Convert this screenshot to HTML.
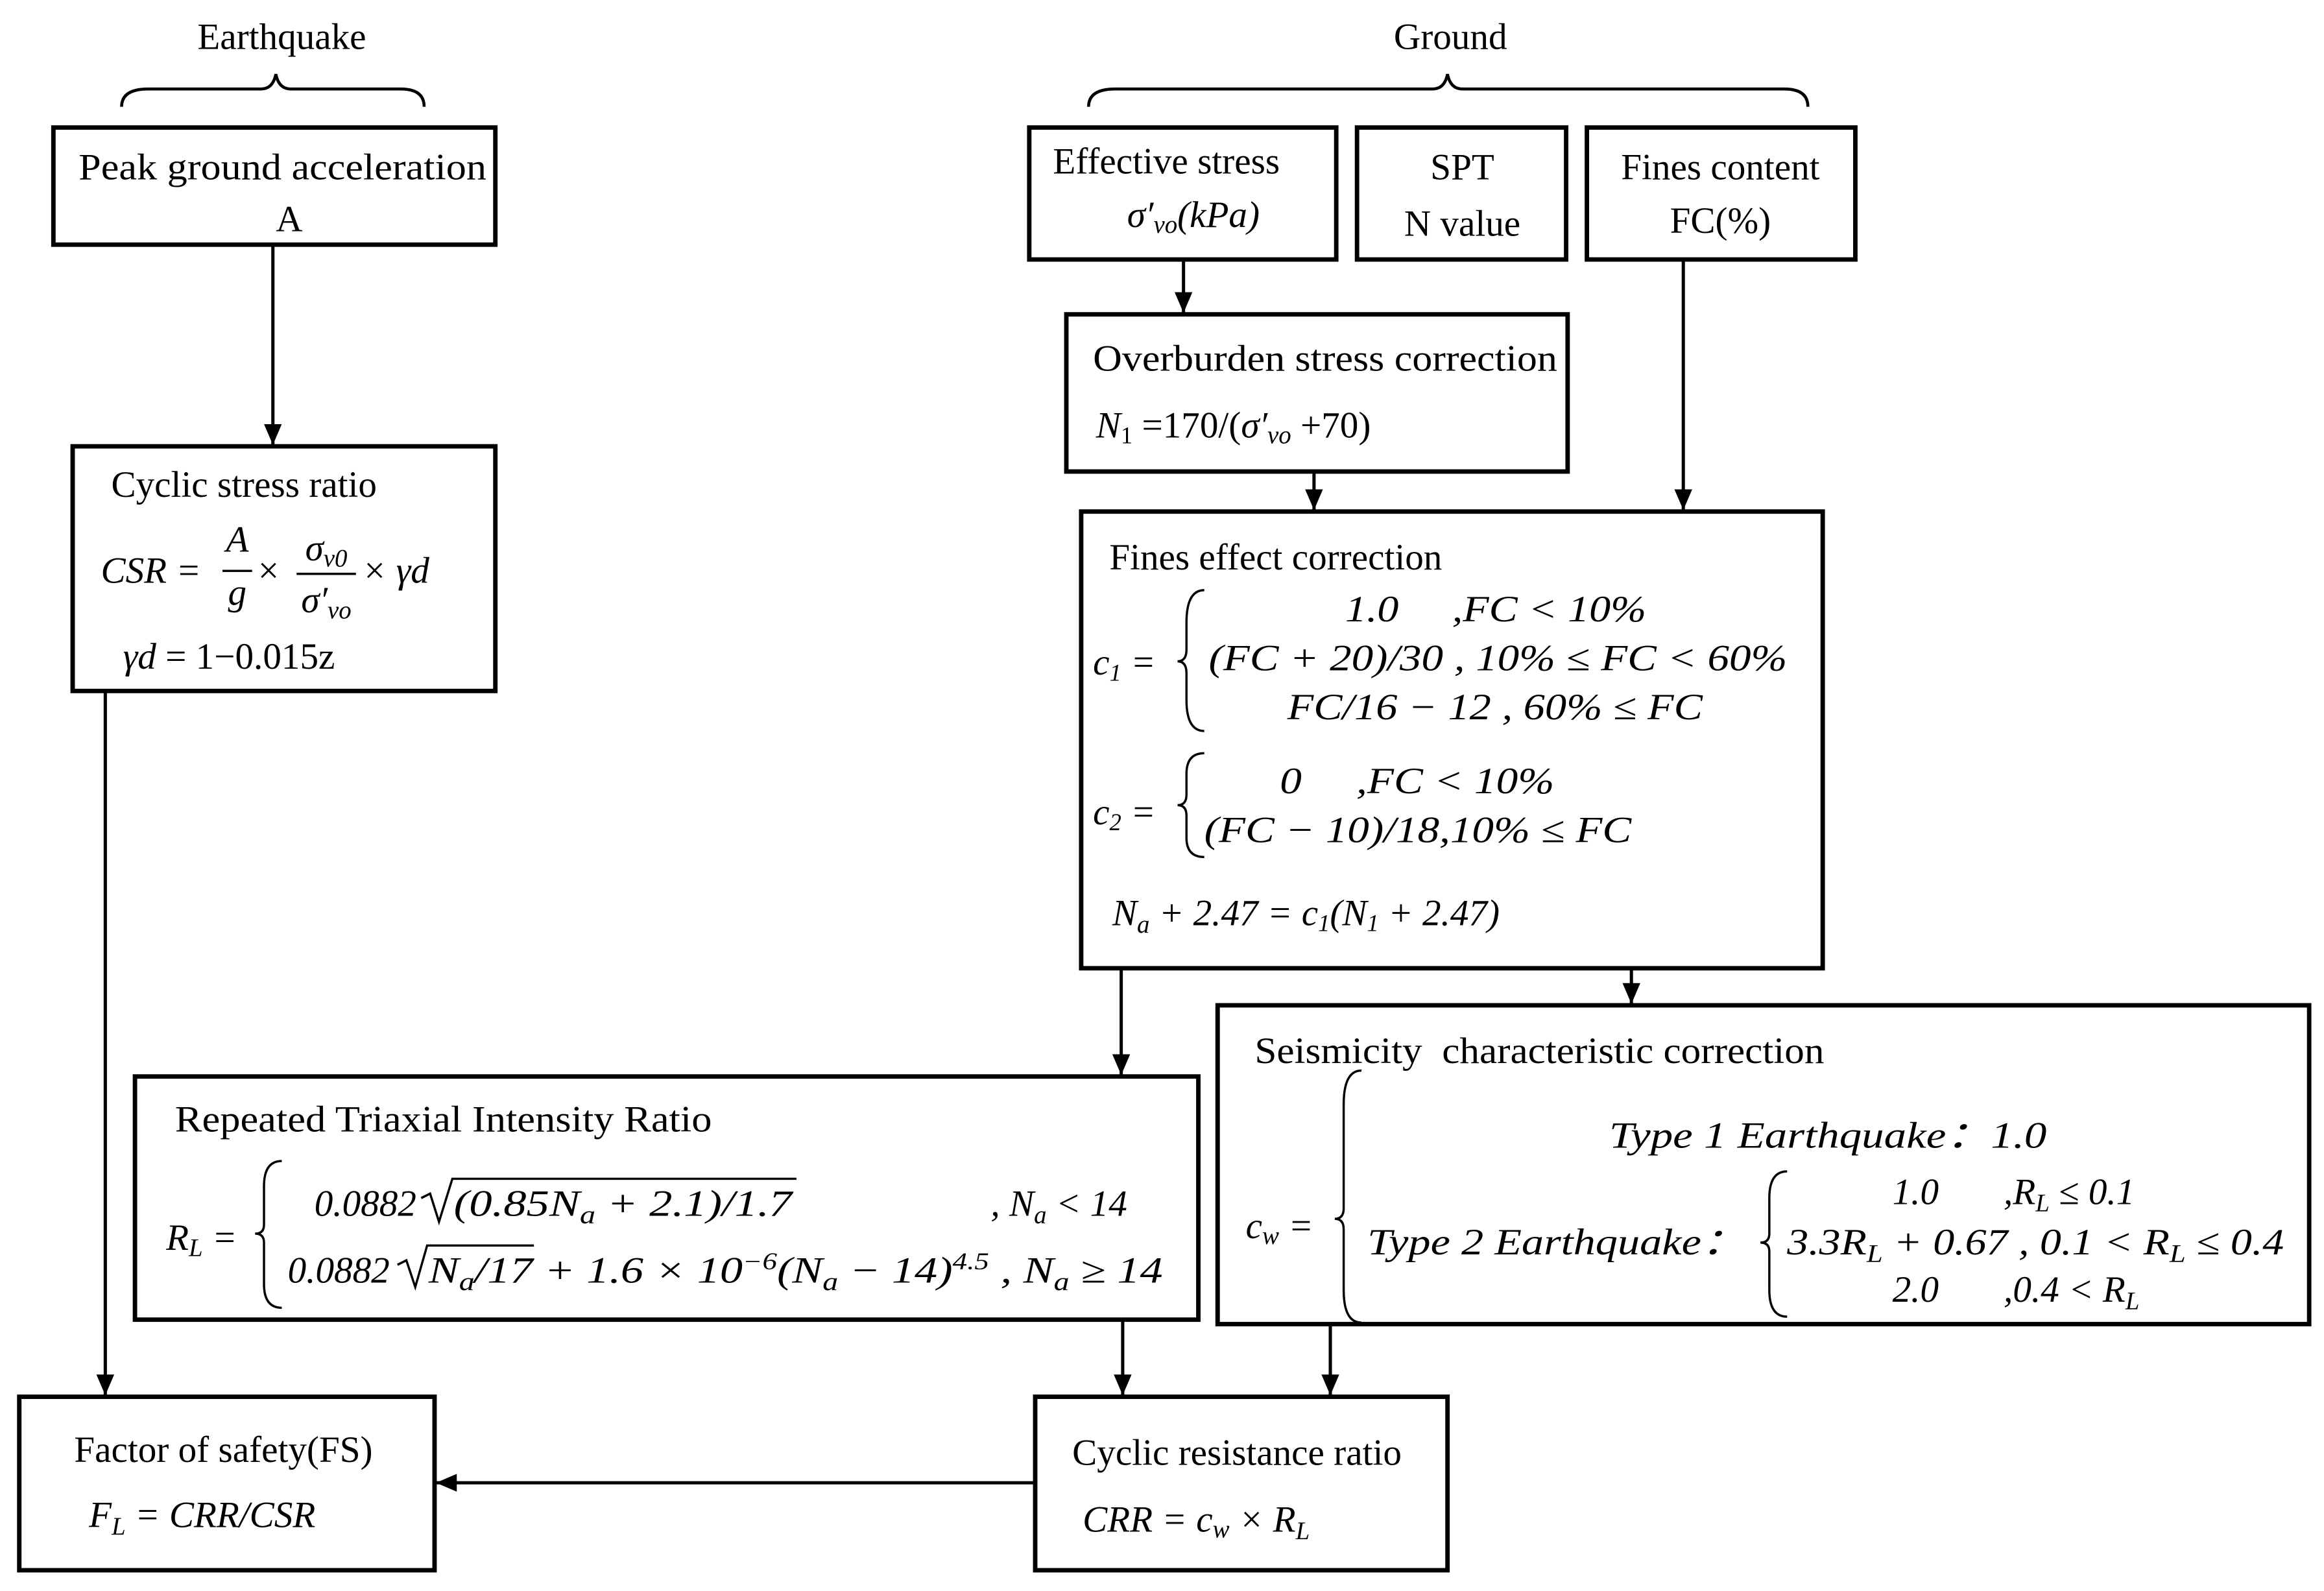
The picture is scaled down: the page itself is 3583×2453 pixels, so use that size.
<!DOCTYPE html>
<html><head><meta charset="utf-8"><style>
html,body{margin:0;padding:0;background:#fff}
svg{display:block}
text{font-family:"Liberation Serif",serif;font-size:25px;fill:#000;white-space:pre}
.i{font-style:italic}
</style></head><body>
<svg width="3583" height="2453" viewBox="0 0 1567 1073" preserveAspectRatio="none" xmlns="http://www.w3.org/2000/svg" xml:space="preserve">
<defs><marker id="b" markerWidth="14" markerHeight="12" refX="14" refY="6" orient="auto" markerUnits="userSpaceOnUse"><path d="M0,0 L14,6 L0,12 z" fill="#000"/></marker></defs>
<g fill="none" stroke="#000" stroke-width="2">
<path d="M82,72 Q82,60 100,60 L176,60 Q184,60 186,50 Q188,60 196,60 L270,60 Q286,60 286,72"/>
<path d="M734,72 Q734,60 752,60 L966,60 Q974,60 976,50 Q978,60 986,60 L1203,60 Q1219,60 1219,72"/>
</g>
<g fill="none" stroke="#000" stroke-width="3">
<rect x="36" y="86" width="298" height="79"/>
<rect x="49" y="301" width="285" height="165"/>
<rect x="694" y="86" width="207" height="89"/>
<rect x="915" y="86" width="141" height="89"/>
<rect x="1070" y="86" width="181" height="89"/>
<rect x="719" y="212" width="338" height="106"/>
<rect x="729" y="345" width="500" height="308"/>
<rect x="821" y="678" width="736" height="215"/>
<rect x="91" y="726" width="717" height="164"/>
<rect x="698" y="942" width="278" height="117"/>
<rect x="13" y="942" width="280" height="117"/>
</g>
<g fill="none" stroke="#000" stroke-width="2.2" marker-end="url(#b)">
<path d="M184,165 V300"/>
<path d="M798,175 V211"/>
<path d="M886,318 V344"/>
<path d="M1135,175 V344"/>
<path d="M1100,653 V677"/>
<path d="M756,653 V725"/>
<path d="M757,890 V941"/>
<path d="M897,893 V941"/>
<path d="M71,466 V941"/>
<path d="M698,1000 H294"/>
</g>
<g fill="none" stroke="#000" stroke-width="1.5">
<path d="M812,398 Q800,398 800,420 L800,438 Q800,446 794,446 Q800,446 800,454 L800,472 Q800,493 812,493"/>
<path d="M812,508 Q800,508 800,522 L800,536 Q800,543 794,543 Q800,543 800,550 L800,565 Q800,578 812,578"/>
<path d="M190,783 Q178,783 178,800 L178,826 Q178,832 172,832 Q178,832 178,838 L178,866 Q178,882 190,882"/>
<path d="M918,722 Q906,722 906,745 L906,815 Q906,822 900,822 Q906,822 906,829 L906,870 Q906,892 918,892"/>
<path d="M1205,790 Q1193,790 1193,808 L1193,832 Q1193,838 1187,838 Q1193,838 1193,844 L1193,870 Q1193,888 1205,888"/>
<path d="M284,808 L290,805 L296,824 L305,795 L537,795"/>
<path d="M268,853 L274,850 L280,868 L288,840 L360,840"/>
<path d="M150,385 H170 M200,387 H240"/>
</g>
<text x="190" y="33" text-anchor="middle">Earthquake</text>
<text x="978" y="33" text-anchor="middle">Ground</text>
<text x="53" y="121" textLength="275" lengthAdjust="spacingAndGlyphs">Peak ground acceleration</text>
<text x="195" y="156" text-anchor="middle">A</text>
<text x="75" y="335">Cyclic stress ratio</text>
<text x="68" y="393" class="i">CSR =</text>
<text x="160" y="372" class="i" text-anchor="middle">A</text>
<text x="160" y="408" class="i" text-anchor="middle">g</text>
<text x="174" y="393">×</text>
<text x="220" y="378" class="i" text-anchor="middle">σ<tspan font-size="17" dy="4">v0</tspan></text>
<text x="220" y="413" class="i" text-anchor="middle">σ′<tspan font-size="17" dy="4">vo</tspan></text>
<text x="244" y="393" class="i">× γd</text>
<text x="83" y="451"><tspan class="i">γd</tspan> = 1−0.015z</text>
<text x="710" y="117">Effective stress</text>
<text x="760" y="153" class="i">σ′<tspan font-size="17" dy="4">vo</tspan><tspan dy="-4">(kPa)</tspan></text>
<text x="986" y="121" text-anchor="middle">SPT</text>
<text x="986" y="159" text-anchor="middle">N value</text>
<text x="1160" y="121" text-anchor="middle">Fines content</text>
<text x="1160" y="157" text-anchor="middle">FC(%)</text>
<text x="737" y="250" textLength="313" lengthAdjust="spacingAndGlyphs">Overburden stress correction</text>
<text x="739" y="295"><tspan class="i">N</tspan><tspan font-size="16" dy="4">1</tspan><tspan dy="-4"> =170/(</tspan><tspan class="i">σ′</tspan><tspan class="i" font-size="17" dy="4">vo</tspan><tspan dy="-4"> +70)</tspan></text>
<text x="748" y="384">Fines effect correction</text>
<text x="737" y="455" class="i">c<tspan font-size="16" dy="4">1</tspan><tspan dy="-4"> =</tspan></text>
<text x="907" y="419" class="i" textLength="203" lengthAdjust="spacingAndGlyphs">1.0     ,FC &lt; 10%</text>
<text x="815" y="452" class="i" textLength="390" lengthAdjust="spacingAndGlyphs">(FC + 20)/30 , 10% ≤ FC &lt; 60%</text>
<text x="868" y="485" class="i" textLength="280" lengthAdjust="spacingAndGlyphs">FC/16 − 12 , 60% ≤ FC</text>
<text x="737" y="556" class="i">c<tspan font-size="16" dy="4">2</tspan><tspan dy="-4"> =</tspan></text>
<text x="863" y="535" class="i" textLength="185" lengthAdjust="spacingAndGlyphs">0     ,FC &lt; 10%</text>
<text x="812" y="568" class="i" textLength="288" lengthAdjust="spacingAndGlyphs">(FC − 10)/18,10% ≤ FC</text>
<text x="750" y="624" class="i">N<tspan font-size="17" dy="5">a</tspan><tspan dy="-5"> + 2.47 = c</tspan><tspan font-size="16" dy="4">1</tspan><tspan dy="-4">(N</tspan><tspan font-size="16" dy="4">1</tspan><tspan dy="-4"> + 2.47)</tspan></text>
<text x="118" y="763" textLength="362" lengthAdjust="spacingAndGlyphs">Repeated Triaxial Intensity Ratio</text>
<text x="112" y="843" class="i">R<tspan font-size="17" dy="4">L</tspan><tspan dy="-4"> =</tspan></text>
<text x="212" y="820" class="i">0.0882</text>
<text x="306" y="820" class="i" textLength="228" lengthAdjust="spacingAndGlyphs">(0.85N<tspan font-size="17" dy="5">a</tspan><tspan dy="-5"> + 2.1)/1.7</tspan></text>
<text x="668" y="820" class="i">, N<tspan font-size="17" dy="5">a</tspan><tspan dy="-5"> &lt; 14</tspan></text>
<text x="194" y="865" class="i">0.0882</text>
<text x="289" y="865" class="i" textLength="495" lengthAdjust="spacingAndGlyphs">N<tspan font-size="17" dy="5">a</tspan><tspan dy="-5">/17 + 1.6 × 10</tspan><tspan font-size="16" dy="-9">−6</tspan><tspan dy="9">(N</tspan><tspan font-size="17" dy="5">a</tspan><tspan dy="-5"> − 14)</tspan><tspan font-size="16" dy="-9">4.5</tspan><tspan dy="9"> , N</tspan><tspan font-size="17" dy="5">a</tspan><tspan dy="-5"> ≥ 14</tspan></text>
<text x="846" y="717" textLength="384" lengthAdjust="spacingAndGlyphs">Seismicity  characteristic correction</text>
<text x="840" y="835" class="i">c<tspan font-size="17" dy="4">w</tspan><tspan dy="-4"> =</tspan></text>
<text x="1085" y="774" class="i" textLength="295" lengthAdjust="spacingAndGlyphs">Type 1 Earthquake：1.0</text>
<text x="922" y="846" class="i" textLength="255" lengthAdjust="spacingAndGlyphs">Type 2 Earthquake：</text>
<text x="1276" y="812" class="i">1.0       ,R<tspan font-size="17" dy="5">L</tspan><tspan dy="-5"> ≤ 0.1</tspan></text>
<text x="1205" y="846" class="i" textLength="335" lengthAdjust="spacingAndGlyphs">3.3R<tspan font-size="17" dy="5">L</tspan><tspan dy="-5"> + 0.67 , 0.1 &lt; R</tspan><tspan font-size="17" dy="5">L</tspan><tspan dy="-5"> ≤ 0.4</tspan></text>
<text x="1276" y="878" class="i">2.0       ,0.4 &lt; R<tspan font-size="17" dy="5">L</tspan></text>
<text x="50" y="986">Factor of safety(FS)</text>
<text x="60" y="1030" class="i">F<tspan font-size="17" dy="5">L</tspan><tspan dy="-5"> = CRR/CSR</tspan></text>
<text x="723" y="988">Cyclic resistance ratio</text>
<text x="730" y="1033" class="i">CRR = c<tspan font-size="17" dy="4">w</tspan><tspan dy="-4"> × R</tspan><tspan font-size="17" dy="5">L</tspan></text>
</svg>
</body></html>
